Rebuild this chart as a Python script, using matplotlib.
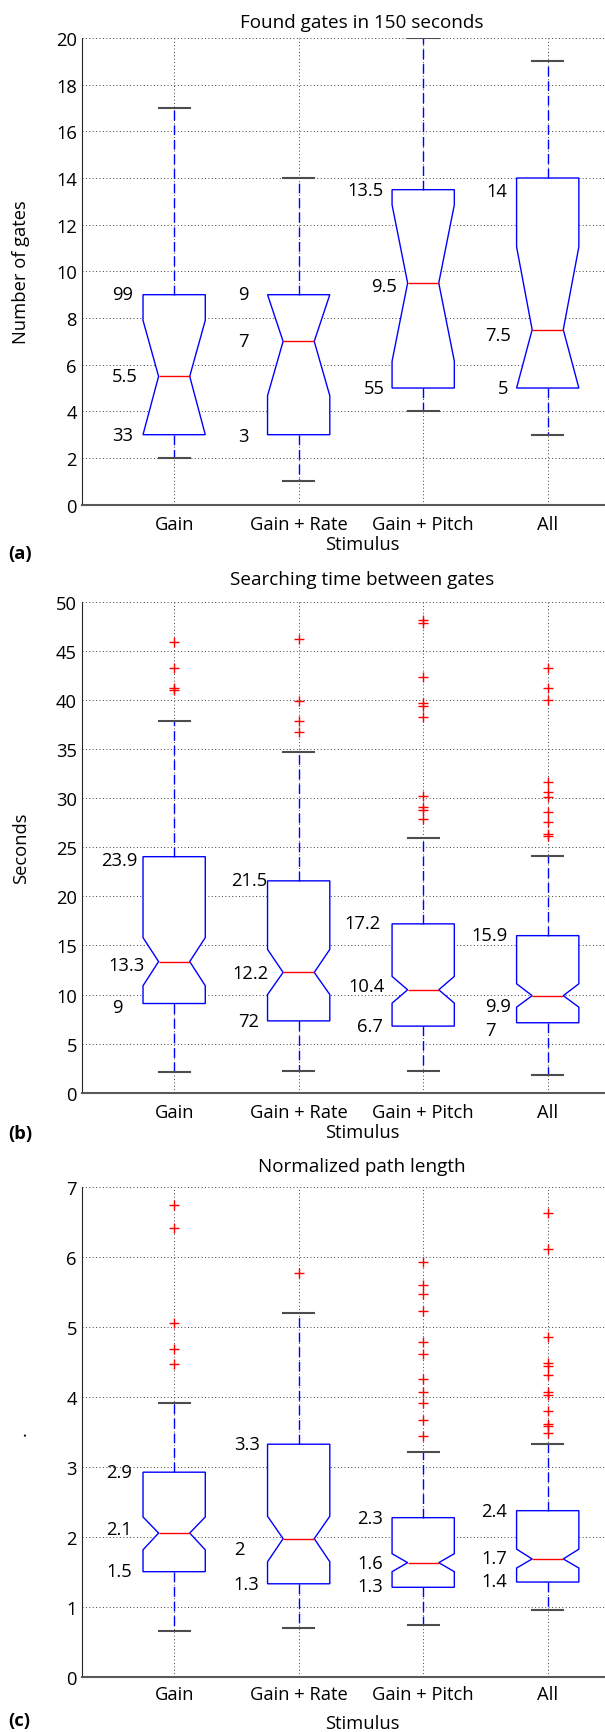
import numpy as np
import matplotlib.pyplot as plt

plt.rcParams['font.family'] = ['Open Sans', 'DejaVu Sans']
plt.rcParams['font.size'] = 13.2

stimuli = ['Gain', 'Gain + Rate', 'Gain + Pitch', 'All']

# (a) found gates in 150 seconds
gates_whislo = [2, 1, 4, 3]
gates_q1 = [3, 3, 5, 5]
gates_med = [5.5, 7, 9.5, 7.5]
gates_q3 = [9, 9, 13.5, 14]
gates_whishi = [17, 14, 20, 19]
gates_cilo = [3.0, 4.67, 6.15, 5.0]
gates_cihi = [7.9, 9.0, 12.85, 11.05]
gates_fliers = [[], [], [], []]
gates_text = [['99', '5.5', '33'], ['9', '7', '3'], ['13.5', '9.5', '55'], ['14', '7.5', '5']]

# (b) searching time between gates
search_whislo = [2.08, 2.23, 2.26, 1.77]
search_q1 = [9.09, 7.32, 6.79, 7.13]
search_med = [13.36, 12.26, 10.49, 9.89]
search_q3 = [24.04, 21.58, 17.2, 16.0]
search_whishi = [37.85, 34.68, 25.9, 24.15]
search_cilo = [10.9, 10.0, 9.13, 8.72]
search_cihi = [15.8, 14.6, 11.85, 11.1]
search_fliers = [[45.9, 43.3, 41.0, 41.2],
                 [46.2, 39.9, 37.9, 36.7],
                 [48.1, 47.8, 42.3, 39.7, 39.4, 38.3, 30.25, 29.1, 28.8, 27.9],
                 [43.2, 41.2, 39.96, 31.6, 30.6, 30.1, 28.6, 27.6, 26.3, 26.1]]
search_text = [['23.9', '13.3', '9'], ['21.5', '12.2', '72'], ['17.2', '10.4', '6.7'], ['15.9', '9.9', '7']]

# (c) normalized path length
path_whislo = [0.665, 0.70, 0.743, 0.955]
path_q1 = [1.508, 1.335, 1.285, 1.36]
path_med = [2.06, 1.98, 1.637, 1.69]
path_q3 = [2.93, 3.33, 2.28, 2.38]
path_whishi = [3.92, 5.20, 3.22, 3.33]
path_cilo = [1.82, 1.65, 1.508, 1.56]
path_cihi = [2.29, 2.30, 1.765, 1.83]
path_fliers = [[6.75, 6.42, 5.06, 4.69, 4.47],
               [5.78],
               [5.93, 5.6, 5.48, 5.23, 4.79, 4.62, 4.26, 4.07, 3.92, 3.68, 3.44],
               [6.64, 6.12, 4.86, 4.49, 4.45, 4.32, 4.08, 4.04, 3.81, 3.62, 3.59, 3.49]]
path_text = [['2.9', '2.1', '1.5'], ['3.3', '2', '1.3'], ['2.3', '1.6', '1.3'], ['2.4', '1.7', '1.4']]

# where the number labels sit (x offset from box centre, y in data units)
gates_lx = [[-0.50, -0.50, -0.50], [-0.49, -0.49, -0.49], [-0.61, -0.415, -0.48], [-0.49, -0.50, -0.40]]
gates_ly = [[9.08, 5.58, 3.04], [9.08, 7.08, 3.0], [13.55, 9.42, 5.06], [13.5, 7.35, 5.06]]
search_lx = [[-0.59, -0.53, -0.50], [-0.545, -0.535, -0.49], [-0.63, -0.60, -0.53], [-0.61, -0.50, -0.50]]
search_ly = [[23.85, 13.2, 8.87], [21.85, 12.4, 7.5], [17.4, 11.0, 6.98], [16.2, 9.0, 6.6]]
path_lx = [[-0.545] * 3, [-0.52, -0.52, -0.527], [-0.53] * 3, [-0.536] * 3]
path_ly = [[2.96, 2.14, 1.54], [3.36, 1.85, 1.36], [2.30, 1.65, 1.32], [2.40, 1.72, 1.39]]

W, H = 605, 1733
fig = plt.figure(figsize=(W / 100, H / 100), dpi=100)
positions = np.arange(1, 5)


def fx(px):
    return px / W


def fy(py):
    return 1 - py / H


def panel(top, bottom, whislo, q1, med, q3, whishi, cilo, cihi, fliers,
          texts, lx, ly, ymax, ystep, title, ylabel, letter,
          title_y, xlab_y, letter_y, tick_gap):
    ax = fig.add_axes([fx(82), fy(bottom), 1 - fx(82) + 0.01, (bottom - top) / H])
    stats = []
    for i in range(4):
        stats.append(dict(med=med[i], q1=q1[i], q3=q3[i], whislo=whislo[i], whishi=whishi[i],
                          cilo=cilo[i], cihi=cihi[i], fliers=np.array(fliers[i]), label=stimuli[i]))
    ax.bxp(stats, positions=positions, widths=0.5, shownotches=True, patch_artist=True,
           boxprops=dict(facecolor='white', edgecolor='blue', linewidth=1),
           medianprops=dict(color='red', linewidth=1),
           whiskerprops=dict(color='blue', linestyle=(0, (7, 3.5)), linewidth=1),
           capprops=dict(color='0.3', linewidth=1.5),
           flierprops=dict(marker='+', markeredgecolor='red', markersize=6.5,
                           markeredgewidth=1, linestyle='none'))
    ax.set_xlim(0.26, 4.46 + 0.01 * W / 124.5)
    ax.set_ylim(0, ymax)
    ax.set_yticks(np.arange(0, ymax + 0.01, ystep))
    ax.grid(True, linestyle=(0, (1, 2.5)), color='0.25', linewidth=0.7)
    ax.set_axisbelow(True)
    for s in ['top', 'right']:
        ax.spines[s].set_visible(False)
    ax.spines['left'].set_color('0.15')
    ax.spines['bottom'].set_color('0.35')
    ax.spines['bottom'].set_linewidth(1.5)
    ax.tick_params(length=0)
    ax.tick_params(axis='y', pad=3.6)
    ax.tick_params(axis='x', pad=tick_gap * 0.72)
    plt.setp(ax.get_xticklabels(), va='baseline')
    for i in range(4):
        for j in range(3):
            ax.annotate(texts[i][j], xy=(positions[i] + lx[i][j], ly[i][j]),
                        xytext=(0, -4.7), textcoords='offset points',
                        ha='left', va='baseline')
    fig.text(fx(362), fy(title_y), title, ha='center', va='baseline', fontsize=13.6)
    fig.text(fx(362), fy(xlab_y), 'Stimulus', ha='center', va='baseline')
    fig.text(fx(21), fy((top + bottom) / 2), ylabel, rotation=90, ha='center', va='center')
    fig.text(fx(8), fy(letter_y), letter, ha='left', va='baseline', fontweight='bold')
    return ax


panel(39, 505.7, gates_whislo, gates_q1, gates_med, gates_q3, gates_whishi,
      gates_cilo, gates_cihi, gates_fliers, gates_text, gates_lx, gates_ly,
      20, 2, 'Found gates in 150 seconds', 'Number of gates', '(a)', 28.3, 550, 559.5, 24.3)
panel(602.7, 1093.8, search_whislo, search_q1, search_med, search_q3, search_whishi,
      search_cilo, search_cihi, search_fliers, search_text, search_lx, search_ly,
      50, 5, 'Searching time between gates', 'Seconds', '(b)', 585, 1137.6, 1139.4, 23.8)
panel(1188.4, 1678.2, path_whislo, path_q1, path_med, path_q3, path_whishi,
      path_cilo, path_cihi, path_fliers, path_text, path_lx, path_ly,
      7, 1, 'Normalized path length', '.', '(c)', 1172, 1729, 1726, 21.5)

fig.savefig('out.png', dpi=100)
